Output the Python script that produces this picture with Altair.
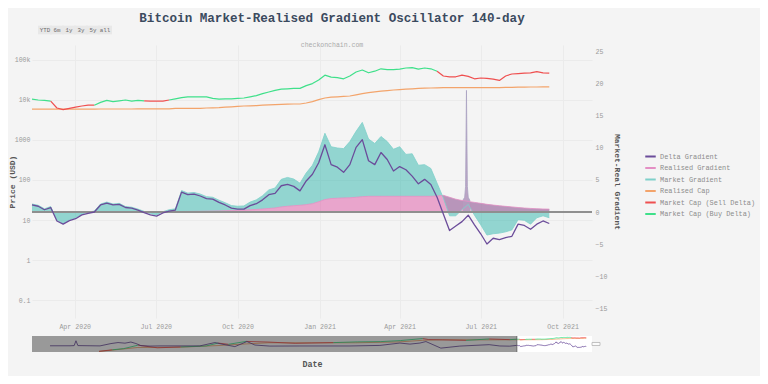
import altair as alt
import pandas as pd

FONT = "Liberation Mono"

# ---------------- main window data (weekly from 2020-02-13) ----------------
dates = pd.date_range("2020-02-13", periods=84, freq="7D")

delta_gradient = [1.1, 0.9, 0.35, 0.7, -1.4, -1.9, -1.35, -1.05, -0.45, -0.2,
                  0.0, 1.1, 1.4, 1.1, 1.2, 0.7, 0.6, 0.3, -0.1, -0.45,
                  -0.65, -0.15, 0.15, 0.3, 3.1, 2.7, 2.8, 2.5, 2.1, 2.0,
                  1.5, 1.1, 0.6, 0.45, 0.45, 1.0, 1.3, 1.9, 2.7, 2.9,
                  4.1, 4.3, 4.0, 3.3, 4.85, 5.9, 7.7, 10.5, 7.4, 7.0,
                  6.2, 7.4, 10.1, 11.3, 8.0, 7.4, 9.3, 8.2, 6.4, 7.1,
                  6.6, 5.6, 4.4, 5.1, 4.3, 2.3, -0.3, -2.9, -2.2, -1.5,
                  -0.5, -2.0, -3.4, -5.0, -4.1, -4.3, -4.0, -3.8, -1.9, -2.1,
                  -2.7, -1.9, -1.4, -1.8]

realised_gradient = [0.02, 0.02, 0.02, 0.02, 0.02, 0.02, 0.02, 0.02, 0.02, 0.02,
                     0.02, 0.02, 0.02, 0.02, 0.02, 0.02, 0.02, 0.02, 0.04, 0.04,
                     0.05, 0.05, 0.06, 0.07, 0.08, 0.09, 0.1, 0.11, 0.13, 0.15,
                     0.17, 0.2, 0.23, 0.26, 0.3, 0.35, 0.4, 0.47, 0.55, 0.63,
                     0.8, 0.9, 0.98, 1.05, 1.15, 1.3, 1.6, 1.95, 2.1, 2.15,
                     2.2, 2.22, 2.3, 2.4, 2.45, 2.45, 2.45, 2.45, 2.45, 2.45,
                     2.45, 2.45, 2.45, 2.45, 2.45, 2.5, 2.6, 2.3, 2.0, 1.8,
                     1.65, 1.5, 1.35, 1.2, 1.08, 0.98, 0.88, 0.8, 0.7, 0.62,
                     0.56, 0.51, 0.47, 0.45]

market_gradient = [1.25, 1.05, 0.5, 0.85, -1.25, -1.75, -1.2, -0.9, -0.3, -0.05,
                   0.15, 1.25, 1.55, 1.25, 1.35, 0.85, 0.75, 0.45, 0.1, -0.25,
                   -0.45, 0.05, 0.35, 0.5, 3.35, 2.95, 3.05, 2.8, 2.4, 2.3,
                   1.85, 1.45, 1.0, 0.9, 0.95, 1.55, 1.9, 2.55, 3.45, 3.75,
                   5.1, 5.4, 5.15, 4.5, 6.1, 7.3, 9.4, 12.3, 10.2, 10.0,
                   9.9, 11.0, 12.6, 14.0, 11.4, 10.7, 11.8, 11.0, 9.8, 10.2,
                   9.0, 9.1, 7.3, 7.4, 6.8, 4.5, 2.2, -0.6, -0.6, 0.4,
                   1.2, -0.5, -2.0, -3.6, -3.4, -3.3, -3.1, -2.8, -1.2, -1.3,
                   -1.9, -0.9, -0.6, -0.9]

market_cap = [10470, 10000, 9770, 9330, 6310, 5750, 6170, 6610, 7080, 7410,
              7410, 8710, 9770, 9120, 9550, 10000, 9330, 9770, 9550, 9330,
              9330, 9330, 10000, 10720, 11480, 12020, 12020, 12020, 12020, 10960,
              10470, 10720, 10720, 10960, 11220, 12020, 12880, 14450, 15850, 17380,
              18620, 19050, 19500, 19500, 22910, 25700, 31620, 41690, 37150, 36310,
              33880, 39810, 50120, 56230, 47860, 52480, 60260, 57540, 57540, 58880,
              63100, 64570, 58880, 63100, 60260, 52480, 39810, 38020, 38020, 41690,
              38900, 33880, 35480, 34670, 33110, 30900, 39810, 44670, 45710, 46770,
              47860, 51290, 47860, 46770]

market_side = ["buy", "buy", "buy", "sell", "sell", "sell", "sell", "sell", "sell", "sell",
               "buy", "buy", "buy", "buy", "buy", "buy", "buy", "buy", "sell", "sell",
               "sell", "sell", "buy", "buy", "buy", "buy", "buy", "buy", "buy", "buy",
               "buy", "buy", "buy", "buy", "buy", "buy", "buy", "buy", "buy", "buy",
               "buy", "buy", "buy", "buy", "buy", "buy", "buy", "buy", "buy", "buy",
               "buy", "buy", "buy", "buy", "buy", "buy", "buy", "buy", "buy", "buy",
               "buy", "buy", "buy", "buy", "buy", "sell", "sell", "sell", "sell", "sell",
               "sell", "sell", "sell", "sell", "sell", "sell", "sell", "sell", "sell", "sell",
               "sell", "sell", "sell", "sell"]

realised_cap = [5890, 5890, 5890, 5890, 5890, 5890, 5890, 5890, 5890, 5890,
                5890, 5960, 5960, 5960, 5960, 5960, 5960, 6030, 6030, 6030,
                6030, 6030, 6030, 6170, 6170, 6170, 6170, 6170, 6310, 6380,
                6460, 6610, 6760, 6920, 7080, 7160, 7240, 7410, 7590, 7670,
                7760, 7850, 7940, 7940, 8410, 9120, 10230, 11220, 11750, 12020,
                12300, 12590, 13490, 14450, 15310, 16030, 16600, 17180, 17780, 18200,
                18620, 19050, 19500, 19720, 19950, 20180, 20420, 20420, 20420, 20420,
                20420, 20420, 20420, 20420, 20420, 20420, 20650, 20650, 20890, 20890,
                21130, 21130, 21380, 21380]

spike_dates = ["2021-06-11", "2021-06-13", "2021-06-14", "2021-06-15",
               "2021-06-16", "2021-06-17", "2021-06-19"]
spike_values = [1.85, 2.3, 4.0, 19.0, 4.0, 2.3, 1.75]

# ---------------- range-slider history ----------------
slider_delta_dates = ["2009-06-03", "2009-11-17", "2009-12-22", "2010-01-06", "2010-01-22",
                      "2010-07-26", "2010-10-26", "2010-12-24", "2011-02-20", "2011-04-11",
                      "2011-05-23", "2011-07-04", "2011-09-18", "2011-12-10", "2012-11-08",
                      "2013-03-14", "2013-05-11", "2013-08-28", "2013-12-07", "2014-02-12",
                      "2014-06-17", "2015-02-23", "2016-04-17", "2016-12-24", "2017-06-09",
                      "2017-09-01", "2017-11-24", "2018-01-13", "2018-05-18", "2018-10-24",
                      "2019-06-26", "2019-09-24", "2019-12-15"]
slider_delta_values = [0, 0, 0.5, 13.4, 0.5, -0.3, 5.9, 8.6, 7.0, 10.0,
                       6.0, 0.5, -0.8, -0.3, -0.3, 8.6, 4.5, -2.2, 11.3, 2.0,
                       -0.8, -0.5, -0.5, 1.0, 7.3, 4.5, 7.3, 11.3, -6.2, -0.8,
                       3.0, -0.5, -1.0]

slider_price_dates = ["2010-07-18", "2010-11-06", "2011-02-10", "2011-06-08", "2011-11-18",
                      "2012-06-01", "2012-12-31", "2013-04-09", "2013-07-05", "2013-11-30",
                      "2014-06-01", "2015-01-14", "2015-12-01", "2016-06-17", "2016-12-31",
                      "2017-06-12", "2017-12-17", "2018-02-06", "2018-12-15", "2019-06-26",
                      "2019-12-17"]
slider_price_values = [0.07, 0.3, 1.0, 28, 2.2, 5.2, 13.4, 230, 68, 1150,
                       630, 180, 360, 750, 960, 2600, 19500, 7000, 3200, 12900, 6600]
slider_price_sides = ["sell", "buy", "buy", "sell", "sell", "buy", "buy", "sell", "buy", "sell",
                      "sell", "sell", "buy", "buy", "buy", "buy", "sell", "sell", "buy", "sell",
                      "buy"]

slider_real_dates = ["2010-07-18", "2011-06-08", "2012-06-01", "2013-04-09", "2013-12-01",
                     "2014-06-01", "2015-06-01", "2016-06-01", "2017-06-01", "2017-12-17",
                     "2018-06-01", "2019-06-01", "2019-12-01"]
slider_real_values = [0.06, 3, 4, 20, 100, 300, 300, 300, 700, 3500, 6000, 5200, 5700]

range_buttons = ["YTD", "6m", "1y", "3y", "5y", "all"]

series_names = ["Delta Gradient", "Realised Gradient", "Market Gradient",
                "Realised Cap", "Market Cap (Sell Delta)", "Market Cap (Buy Delta)"]
series_colors = ["#6b4c9a", "#e48fc4", "#7fd0ca", "#f3a46b", "#ef5050", "#3fe08a"]
side_name = {"sell": "Market Cap (Sell Delta)", "buy": "Market Cap (Buy Delta)"}
side_color = {"sell": "#ef5050", "buy": "#3fe08a"}


def segment_rows(ds, vs, sides, prefix):
    rows = []
    seg = 0
    for i in range(len(ds)):
        if i > 0 and sides[i] != sides[i - 1]:
            rows.append(dict(date=ds[i], value=vs[i], side=sides[i - 1],
                             series=side_name[sides[i - 1]], seg=f"{prefix}{seg}"))
            seg += 1
        rows.append(dict(date=ds[i], value=vs[i], side=sides[i],
                         series=side_name[sides[i]], seg=f"{prefix}{seg}"))
    return rows


date_strs = [d.strftime("%Y-%m-%d") for d in dates]

grad_df = pd.DataFrame({"date": date_strs, "D": delta_gradient, "R": realised_gradient,
                        "M": market_gradient, "zero": [0.0] * len(date_strs)})
grad_long = pd.concat([
    pd.DataFrame({"date": date_strs, "value": delta_gradient, "series": "Delta Gradient"}),
    pd.DataFrame({"date": date_strs, "value": realised_gradient, "series": "Realised Gradient"}),
    pd.DataFrame({"date": date_strs, "value": market_gradient, "series": "Market Gradient"}),
])
spike_df = pd.DataFrame({"date": spike_dates, "value": spike_values,
                         "zero": [0.0] * len(spike_dates)})

price_rows = [dict(date=d, value=v, side="real", series="Realised Cap", seg="rc")
              for d, v in zip(date_strs, realised_cap)]
price_rows += segment_rows(date_strs, market_cap, market_side, "m")
price_df = pd.DataFrame(price_rows)

# slider frames
sl_delta_df = pd.DataFrame({"date": slider_delta_dates + date_strs,
                            "value": slider_delta_values + delta_gradient})
sl_price_df = pd.DataFrame(segment_rows(slider_price_dates + date_strs,
                                        slider_price_values + market_cap,
                                        slider_price_sides + market_side, "s"))
sl_real_df = pd.DataFrame({"date": slider_real_dates + date_strs,
                           "value": slider_real_values + realised_cap})
sl_box_df = pd.DataFrame({"s": ["2009-01-03"], "w": ["2020-02-13"], "e": ["2021-11-03"],
                          "lo": [-16.56], "hi": [26.09], "mid": [4.8]})
btn_df = pd.DataFrame({"label": range_buttons})

# ---------------- scales / axes ----------------
GRID = "#ebebeb"
x_domain = [alt.DateTime(year=2020, month=2, date=13), alt.DateTime(year=2021, month=11, date=3)]
x_ticks = [alt.DateTime(year=y, month=m, date=1)
           for y, m in [(2020, 4), (2020, 7), (2020, 10), (2021, 1), (2021, 4), (2021, 7), (2021, 10)]]
x_axis = alt.Axis(values=x_ticks, format="%b %Y", title="Date", ticks=False, domain=False,
                  grid=True, gridColor=GRID, labelFont=FONT, labelFontSize=6.6,
                  labelColor="#9a9a9a", labelPadding=5, titleFont=FONT, titleFontSize=8.4,
                  titleFontWeight="bold", titleColor="#555555", titlePadding=30,
                  labelOverlap=False)
x_enc = alt.X("date:T", scale=alt.Scale(domain=x_domain), axis=x_axis)

price_scale = alt.Scale(type="log", domain=[0.0355, 237000], nice=False)
price_axis = alt.Axis(orient="left", values=[0.1, 1, 10, 100, 1000, 10000, 100000],
                      labelExpr="datum.value >= 10000 ? format(datum.value / 1000, 'd') + 'k' : (datum.value >= 1 ? format(datum.value, 'd') : format(datum.value, '.1f'))",
                      title="Price (USD)", grid=True, gridColor=GRID, ticks=False,
                      domain=False, labelFont=FONT, labelFontSize=6.6, labelColor="#9a9a9a",
                      labelPadding=2, titleFont=FONT, titleFontSize=8, titleFontWeight="bold",
                      titleColor="#555555", titleX=-20, titleBaseline="middle")

grad_scale = alt.Scale(domain=[-16.56, 26.09], nice=False, zero=False)
grad_axis = alt.Axis(orient="right", values=[-15, -10, -5, 0, 5, 10, 15, 20, 25],
                     title="Market-Real Gradient", grid=False, ticks=False, domain=False,
                     labelFont=FONT, labelFontSize=6.6, labelColor="#9a9a9a", labelPadding=3,
                     titleFont=FONT, titleFontSize=8, titleFontWeight="bold",
                     titleColor="#555555", titlePadding=6)

legend = alt.Legend(title=None, orient="none", legendX=612, legendY=105,
                    symbolType="stroke", symbolSize=110, symbolStrokeWidth=2,
                    labelFont=FONT, labelFontSize=6.9, labelColor="#8c8c8c",
                    labelOffset=3, rowPadding=0.5, padding=0)
color_enc = alt.Color("series:N", scale=alt.Scale(domain=series_names, range=series_colors),
                      legend=legend, sort=series_names)

# ---------------- gradient layer ----------------
teal_area = alt.Chart(grad_df).mark_area(color="#2fb5ab", opacity=0.5).encode(
    x=x_enc, y=alt.Y("M:Q", scale=grad_scale, axis=grad_axis), y2="R:Q")
pink_area = alt.Chart(grad_df).mark_area(color="#de55a4", opacity=0.5).encode(
    x=x_enc, y=alt.Y("R:Q", scale=grad_scale, axis=grad_axis), y2="zero:Q")
spike_area = alt.Chart(spike_df).mark_area(color="#b59bbf", opacity=0.9,
                                           line={"color": "#a9a2c2", "strokeWidth": 0.8}).encode(
    x=x_enc, y=alt.Y("value:Q", scale=grad_scale, axis=grad_axis), y2="zero:Q")
grad_lines_bottom = alt.Chart(grad_long).transform_filter(
    "datum.series != 'Delta Gradient'").mark_line(strokeWidth=0.8).encode(
    x=x_enc, y=alt.Y("value:Q", scale=grad_scale, axis=grad_axis), color=color_enc)
zero_rule = alt.Chart(grad_df).mark_rule(color="#8f8f8f", strokeWidth=2).encode(
    y=alt.YDatum(0, type="quantitative", scale=grad_scale, axis=grad_axis))
delta_line = alt.Chart(grad_long).transform_filter(
    "datum.series == 'Delta Gradient'").mark_line(strokeWidth=1.3, strokeJoin="round").encode(
    x=x_enc, y=alt.Y("value:Q", scale=grad_scale, axis=grad_axis), color=color_enc)

grad_layer = alt.layer(teal_area, pink_area, spike_area, grad_lines_bottom, zero_rule, delta_line)

# ---------------- price layer ----------------
price_lines = alt.Chart(price_df).mark_line(strokeWidth=1.2, strokeJoin="round").encode(
    x=x_enc, y=alt.Y("value:Q", scale=price_scale, axis=price_axis),
    color=color_enc, detail="seg:N")
price_layer = alt.layer(price_lines)

main = alt.layer(grad_layer, price_layer).resolve_scale(y="independent")

# ---------------- range slider ----------------
sl_x_domain = [alt.DateTime(year=2009, month=1, date=3), alt.DateTime(year=2021, month=11, date=3)]
sl_xscale = alt.Scale(domain=sl_x_domain)
sl_x = alt.X("date:T", scale=sl_xscale, axis=None)
sl_grad_scale = alt.Scale(domain=[-16.56, 26.09], range=[307, 291], nice=False, zero=False)
sl_price_scale = alt.Scale(type="log", domain=[0.0355, 237000], range=[307, 291], nice=False)

sl_bg = alt.Chart(sl_box_df).mark_rect(color="#ffffff").encode(
    x=alt.X("s:T", scale=sl_xscale, axis=None), x2="e:T",
    y=alt.Y("lo:Q", scale=sl_grad_scale, axis=None), y2="hi:Q")
sl_delta = alt.Chart(sl_delta_df).mark_line(color="#6b4c9a", strokeWidth=0.8).encode(
    x=sl_x, y=alt.Y("value:Q", scale=sl_grad_scale, axis=None))
sl_mask = alt.Chart(sl_box_df).mark_rect(color="#000000", opacity=0.4).encode(
    x=alt.X("s:T", scale=sl_xscale, axis=None), x2="w:T",
    y=alt.Y("lo:Q", scale=sl_grad_scale, axis=None), y2="hi:Q")
sl_edge = alt.Chart(sl_box_df).mark_rule(color="#555555", strokeWidth=0.8).encode(
    x=alt.X("w:T", scale=sl_xscale, axis=None),
    y=alt.Y("lo:Q", scale=sl_grad_scale, axis=None), y2="hi:Q")
sl_handle = alt.Chart(sl_box_df).mark_tick(color="#ffffff", stroke="#999999", strokeWidth=0.8,
                                           thickness=3, size=8, xOffset=4).encode(
    x=alt.X("e:T", scale=sl_xscale, axis=None),
    y=alt.Y("mid:Q", scale=sl_grad_scale, axis=None))

sl_real = alt.Chart(sl_real_df).mark_line(color="#f3a46b", strokeWidth=0.8).encode(
    x=sl_x, y=alt.Y("value:Q", scale=sl_price_scale, axis=None))
sl_sell = alt.Chart(sl_price_df).transform_filter("datum.side == 'sell'").mark_line(
    color=side_color["sell"], strokeWidth=0.8).encode(
    x=sl_x, y=alt.Y("value:Q", scale=sl_price_scale, axis=None), detail="seg:N")
sl_buy = alt.Chart(sl_price_df).transform_filter("datum.side == 'buy'").mark_line(
    color=side_color["buy"], strokeWidth=0.8).encode(
    x=sl_x, y=alt.Y("value:Q", scale=sl_price_scale, axis=None), detail="seg:N")

slider = alt.layer(sl_bg, sl_real, sl_sell, sl_buy, sl_delta, sl_mask, sl_edge,
                   sl_handle).resolve_scale(y="independent")

# ---------------- range selector buttons ----------------
btn_x = alt.X("label:N", scale=alt.Scale(type="point", domain=range_buttons, range=[7, 79]),
              axis=None, sort=range_buttons)
btn_box = alt.Chart(btn_df).mark_point(shape="M-1,-0.62H1V0.62H-1Z", filled=True,
                                       color="#e8e8e8", opacity=1, size=196).encode(
    x=btn_x, y=alt.value(-15))
btn_text = alt.Chart(btn_df).mark_text(font=FONT, fontSize=5.8, color="#6a6a6a").encode(
    x=btn_x, y=alt.value(-15), text="label:N")
buttons = alt.layer(btn_box, btn_text)

chart = alt.layer(main, slider, buttons).resolve_scale(x="independent", y="independent").properties(
    width=560, height=273,
    autosize=alt.AutoSizeParams(type="none"),
    padding={"left": 24, "top": 37, "right": 168, "bottom": 58},
    background="#f4f4f4",
    title=alt.TitleParams(
        text="Bitcoin Market-Realised Gradient Oscillator 140-day",
        font=FONT, fontSize=12.6, fontWeight="bold", color="#3b4a5e",
        anchor="middle", frame="group", dx=20, offset=-22.4,
        subtitle="checkonchain.com", subtitleFont=FONT, subtitleFontSize=6.5,
        subtitleColor="#aaaaaa", subtitlePadding=17),
).configure(font=FONT).configure_view(stroke=None, fill="#f4f4f4")

chart.save("out.html", embed_options={"renderer": "svg", "actions": False})
